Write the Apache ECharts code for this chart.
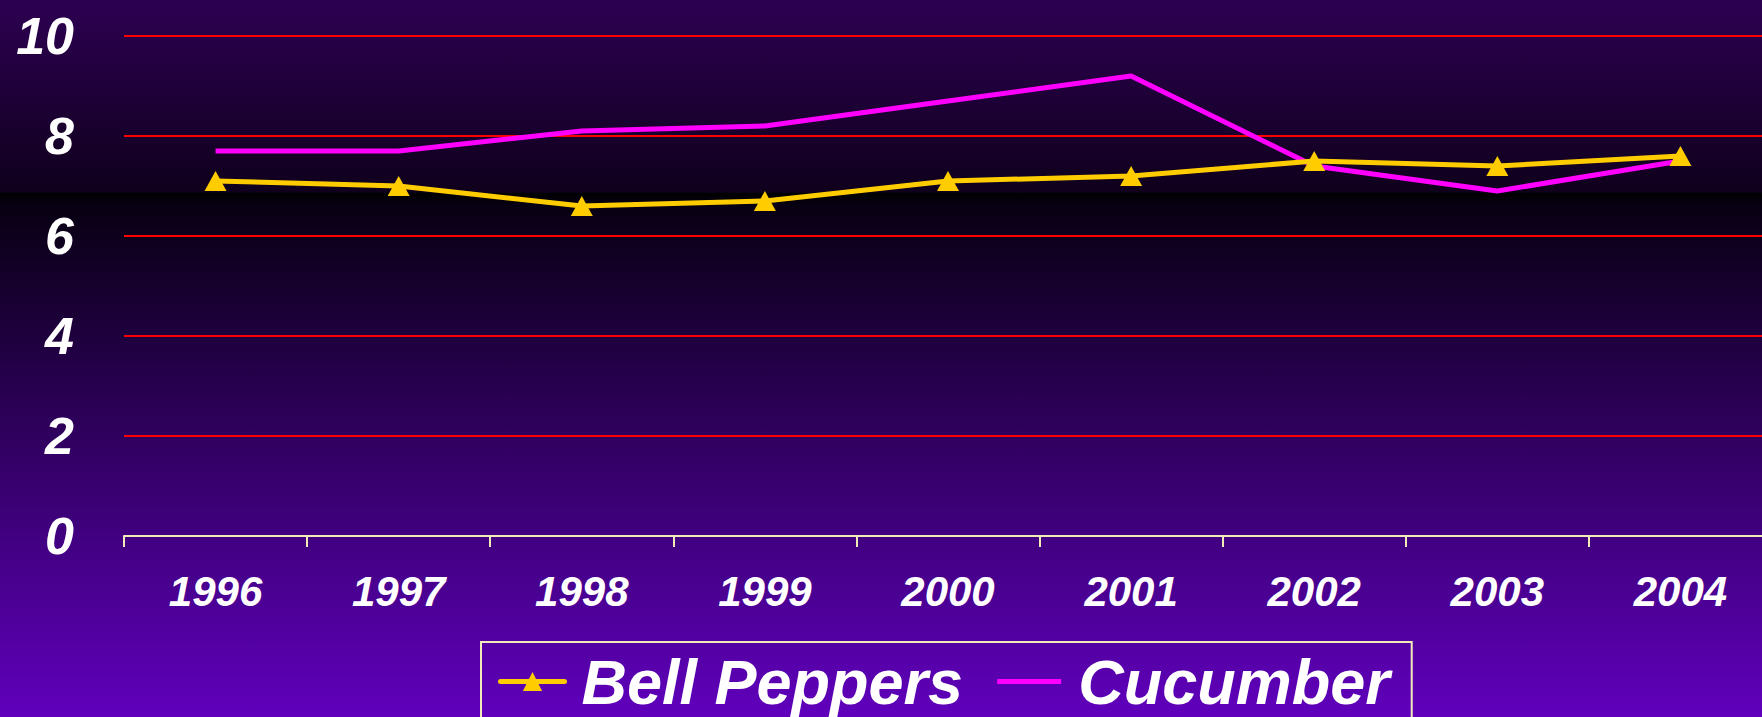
<!DOCTYPE html>
<html>
<head>
<meta charset="utf-8">
<title>Bell Peppers vs Cucumber</title>
<script src="https://cdn.jsdelivr.net/npm/echarts@6/dist/echarts.min.js"></script>
<style>
  html, body { margin: 0; padding: 0; overflow: hidden; }
  /* the plot runs past the right edge of the window, as in the original */
  #chart { width: 1772px; height: 717px; }
</style>
</head>
<body>
<div id="chart"></div>
<script>
var years = ['1996', '1997', '1998', '1999', '2000', '2001', '2002', '2003', '2004'];
var bellPeppers = [7.1, 7.0, 6.6, 6.7, 7.1, 7.2, 7.5, 7.4, 7.6];
var cucumber = [7.7, 7.7, 8.1, 8.2, 8.7, 9.2, 7.4, 6.9, 7.5];
var yTicks = { min: 0, max: 10, interval: 2 };

(function() {
  var font = '"Liberation Sans", Arial, sans-serif';
  var cream = '#f2eab8';
  var gold = '#ffcc00';
  var magenta = '#ff00ff';

  var chart = echarts.init(document.getElementById('chart'), null, { renderer: 'svg' });
  chart.setOption({
    animation: false,
    // purple at top, dark band, then back up to violet at the bottom
    backgroundColor: {
      type: 'linear', x: 0, y: 0, x2: 0, y2: 1,
      colorStops: [
        { offset: 0, color: '#2d0052' },
        { offset: 0.268, color: '#0f001c' },
        { offset: 0.27, color: '#000000' },
        { offset: 0.285, color: '#080012' },
        { offset: 1, color: '#6000bc' }
      ]
    },
    grid: { left: 124, top: 36, bottom: 181, right: 0 },
    legend: {
      data: [
        {
          name: 'Bell Peppers',
          itemStyle: { color: gold },
          lineStyle: { color: gold, width: 5, cap: 'round' }
        },
        {
          name: 'Cucumber',
          icon: 'path://M0,0 H64 V5 H0 Z',
          itemStyle: { color: magenta }
        }
      ],
      left: 481,
      top: 642,
      padding: [8, 22, 8, 17],
      itemGap: 34,
      itemWidth: 64,
      itemHeight: 24,
      borderColor: cream,
      borderWidth: 2,
      textStyle: {
        color: '#ffffff',
        fontSize: 63,
        fontWeight: 'bold',
        fontStyle: 'italic',
        fontFamily: font,
        padding: [0, 0, 0, 12]
      }
    },
    xAxis: {
      type: 'category',
      data: years,
      boundaryGap: true,
      axisLine: { lineStyle: { color: cream, width: 2 } },
      axisTick: { show: true, length: 11, lineStyle: { color: cream, width: 2 } },
      axisLabel: {
        color: '#ffffff',
        fontSize: 42,
        fontWeight: 'bold',
        fontStyle: 'italic',
        fontFamily: font,
        margin: 34
      }
    },
    yAxis: {
      type: 'value',
      min: yTicks.min,
      max: yTicks.max,
      interval: yTicks.interval,
      axisLine: { show: false },
      axisTick: { show: false },
      axisLabel: {
        color: '#ffffff',
        fontSize: 52,
        fontWeight: 'bold',
        fontStyle: 'italic',
        fontFamily: font,
        margin: 50
      },
      splitLine: { lineStyle: { color: '#ff0000', width: 2 } }
    },
    series: [
      {
        name: 'Bell Peppers',
        type: 'line',
        data: bellPeppers,
        symbol: 'triangle',
        symbolSize: [22, 20],
        z: 3,
        lineStyle: { color: gold, width: 5 },
        itemStyle: { color: gold }
      },
      {
        name: 'Cucumber',
        type: 'line',
        data: cucumber,
        showSymbol: false,
        z: 2,
        lineStyle: { color: magenta, width: 5 },
        itemStyle: { color: magenta }
      }
    ]
  });
})();
</script>
</body>
</html>
